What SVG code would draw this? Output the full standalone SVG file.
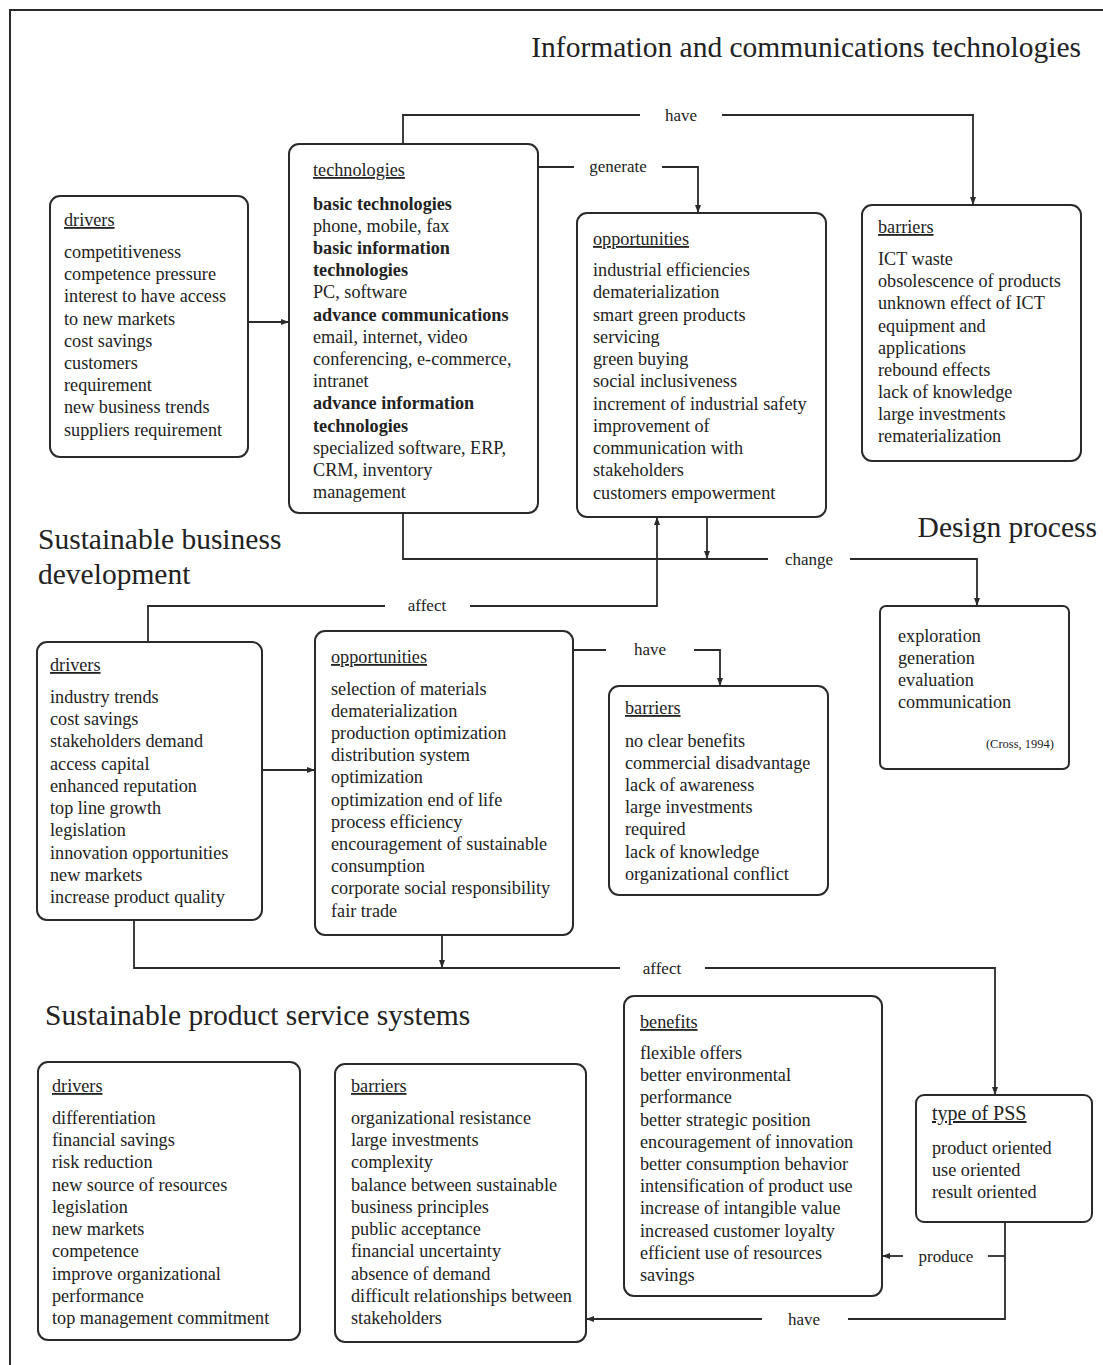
<svg xmlns="http://www.w3.org/2000/svg" width="1103" height="1365" viewBox="0 0 1103 1365">
<style>
text{font-family:"Liberation Serif","Times New Roman",serif;fill:#222}
.t{font-size:18.2px}
.h{font-size:18.2px;text-decoration:underline}
.b{font-weight:bold}
.lbl{font-size:17px;text-anchor:middle}
.title{font-size:29.5px}
.box{fill:#fff;stroke:#2a2a2a;stroke-width:2}
.c{fill:none;stroke:#2a2a2a;stroke-width:1.8}
</style>
<defs>
<marker id="ah" markerWidth="8" markerHeight="8" refX="7" refY="4" orient="auto" markerUnits="userSpaceOnUse">
<path d="M0,1 L8,4 L0,7 Z" fill="#2a2a2a"/>
</marker>
</defs>
<rect width="1103" height="1365" fill="#fff"/>
<path d="M10,1365 V10 H1103" fill="none" stroke="#2a2a2a" stroke-width="2"/>

<text class="title" x="1081" y="57" text-anchor="end">Information and communications technologies</text>
<text class="title" x="1097" y="537" text-anchor="end">Design process</text>
<text class="title" x="38" y="549">Sustainable business</text>
<text class="title" x="38" y="584">development</text>
<text class="title" x="45" y="1025">Sustainable product service systems</text>

<g id="connectors">
<path class="c" d="M403,144 V115 H640"/>
<path class="c" d="M722,115 H973 V204" marker-end="url(#ah)"/>
<text class="lbl" x="681" y="121">have</text>
<path class="c" d="M538,167 H574"/>
<path class="c" d="M662,167 H698 V212" marker-end="url(#ah)"/>
<text class="lbl" x="618" y="172">generate</text>
<path class="c" d="M248,322 H288" marker-end="url(#ah)"/>
<path class="c" d="M403,513 V559 H768"/>
<path class="c" d="M850,559 H977 V605" marker-end="url(#ah)"/>
<text class="lbl" x="809" y="565">change</text>
<path class="c" d="M707,517 V558" marker-end="url(#ah)"/>
<path class="c" d="M148,642 V606 H385"/>
<path class="c" d="M470,606 H657 V518" marker-end="url(#ah)"/>
<text class="lbl" x="427" y="611">affect</text>
<path class="c" d="M262,770 H314" marker-end="url(#ah)"/>
<path class="c" d="M573,650 H606"/>
<path class="c" d="M694,650 H720 V685" marker-end="url(#ah)"/>
<text class="lbl" x="650" y="655">have</text>
<path class="c" d="M134,920 V968 H620"/>
<path class="c" d="M705,968 H995 V1094" marker-end="url(#ah)"/>
<text class="lbl" x="662" y="974">affect</text>
<path class="c" d="M442,935 V967" marker-end="url(#ah)"/>
<path class="c" d="M1005,1222 V1319 H848"/>
<path class="c" d="M762,1319 H587" marker-end="url(#ah)"/>
<text class="lbl" x="804" y="1325">have</text>
<path class="c" d="M1005,1256 H988"/>
<path class="c" d="M903,1256 H883" marker-end="url(#ah)"/>
<text class="lbl" x="946" y="1262">produce</text>
</g>

<g id="ict-drivers">
<rect class="box" x="50" y="196" width="198" height="261" rx="10"/>
<text class="h" x="64" y="226">drivers</text>
<text class="t" x="64" y="258">competitiveness</text>
<text class="t" x="64" y="280">competence pressure</text>
<text class="t" x="64" y="302">interest to have access</text>
<text class="t" x="64" y="325">to new markets</text>
<text class="t" x="64" y="347">cost savings</text>
<text class="t" x="64" y="369">customers</text>
<text class="t" x="64" y="391">requirement</text>
<text class="t" x="64" y="413">new business trends</text>
<text class="t" x="64" y="436">suppliers requirement</text>
</g>

<g id="ict-technologies">
<rect class="box" x="289" y="144" width="249" height="369" rx="10"/>
<text class="h" x="313" y="176">technologies</text>
<text class="t b" x="313" y="210">basic technologies</text>
<text class="t" x="313" y="232">phone, mobile, fax</text>
<text class="t b" x="313" y="254">basic information</text>
<text class="t b" x="313" y="276">technologies</text>
<text class="t" x="313" y="298">PC, software</text>
<text class="t b" x="313" y="321">advance communications</text>
<text class="t" x="313" y="343">email, internet, video</text>
<text class="t" x="313" y="365">conferencing, e-commerce,</text>
<text class="t" x="313" y="387">intranet</text>
<text class="t b" x="313" y="409">advance information</text>
<text class="t b" x="313" y="432">technologies</text>
<text class="t" x="313" y="454">specialized software, ERP,</text>
<text class="t" x="313" y="476">CRM, inventory</text>
<text class="t" x="313" y="498">management</text>
</g>

<g id="ict-opportunities">
<rect class="box" x="577" y="213" width="249" height="304" rx="10"/>
<text class="h" x="593" y="245">opportunities</text>
<text class="t" x="593" y="276">industrial efficiencies</text>
<text class="t" x="593" y="298">dematerialization</text>
<text class="t" x="593" y="321">smart green products</text>
<text class="t" x="593" y="343">servicing</text>
<text class="t" x="593" y="365">green buying</text>
<text class="t" x="593" y="387">social inclusiveness</text>
<text class="t" x="593" y="410">increment of industrial safety</text>
<text class="t" x="593" y="432">improvement of</text>
<text class="t" x="593" y="454">communication with</text>
<text class="t" x="593" y="476">stakeholders</text>
<text class="t" x="593" y="499">customers empowerment</text>
</g>

<g id="ict-barriers">
<rect class="box" x="862" y="205" width="219" height="256" rx="10"/>
<text class="h" x="878" y="233">barriers</text>
<text class="t" x="878" y="265">ICT waste</text>
<text class="t" x="878" y="287">obsolescence of products</text>
<text class="t" x="878" y="309">unknown effect of ICT</text>
<text class="t" x="878" y="332">equipment and</text>
<text class="t" x="878" y="354">applications</text>
<text class="t" x="878" y="376">rebound effects</text>
<text class="t" x="878" y="398">lack of knowledge</text>
<text class="t" x="878" y="420">large investments</text>
<text class="t" x="878" y="442">rematerialization</text>
</g>

<g id="design-process">
<rect class="box" x="880" y="606" width="189" height="163" rx="6"/>
<text class="t" x="898" y="642">exploration</text>
<text class="t" x="898" y="664">generation</text>
<text class="t" x="898" y="686">evaluation</text>
<text class="t" x="898" y="708">communication</text>
<text x="1054" y="748" text-anchor="end" style="font-size:12.5px">(Cross, 1994)</text>
</g>

<g id="sbd-drivers">
<rect class="box" x="37" y="642" width="225" height="278" rx="10"/>
<text class="h" x="50" y="671">drivers</text>
<text class="t" x="50" y="703">industry trends</text>
<text class="t" x="50" y="725">cost savings</text>
<text class="t" x="50" y="747">stakeholders demand</text>
<text class="t" x="50" y="770">access capital</text>
<text class="t" x="50" y="792">enhanced reputation</text>
<text class="t" x="50" y="814">top line growth</text>
<text class="t" x="50" y="836">legislation</text>
<text class="t" x="50" y="859">innovation opportunities</text>
<text class="t" x="50" y="881">new markets</text>
<text class="t" x="50" y="903">increase product quality</text>
</g>

<g id="sbd-opportunities">
<rect class="box" x="315" y="631" width="258" height="304" rx="10"/>
<text class="h" x="331" y="663">opportunities</text>
<text class="t" x="331" y="695">selection of materials</text>
<text class="t" x="331" y="717">dematerialization</text>
<text class="t" x="331" y="739">production optimization</text>
<text class="t" x="331" y="761">distribution system</text>
<text class="t" x="331" y="783">optimization</text>
<text class="t" x="331" y="806">optimization end of life</text>
<text class="t" x="331" y="828">process efficiency</text>
<text class="t" x="331" y="850">encouragement of sustainable</text>
<text class="t" x="331" y="872">consumption</text>
<text class="t" x="331" y="894">corporate social responsibility</text>
<text class="t" x="331" y="917">fair trade</text>
</g>

<g id="sbd-barriers">
<rect class="box" x="609" y="686" width="219" height="209" rx="10"/>
<text class="h" x="625" y="714">barriers</text>
<text class="t" x="625" y="747">no clear benefits</text>
<text class="t" x="625" y="769">commercial disadvantage</text>
<text class="t" x="625" y="791">lack of awareness</text>
<text class="t" x="625" y="813">large investments</text>
<text class="t" x="625" y="835">required</text>
<text class="t" x="625" y="858">lack of knowledge</text>
<text class="t" x="625" y="880">organizational conflict</text>
</g>

<g id="pss-drivers">
<rect class="box" x="38" y="1062" width="262" height="278" rx="10"/>
<text class="h" x="52" y="1092">drivers</text>
<text class="t" x="52" y="1124">differentiation</text>
<text class="t" x="52" y="1146">financial savings</text>
<text class="t" x="52" y="1168">risk reduction</text>
<text class="t" x="52" y="1191">new source of resources</text>
<text class="t" x="52" y="1213">legislation</text>
<text class="t" x="52" y="1235">new markets</text>
<text class="t" x="52" y="1257">competence</text>
<text class="t" x="52" y="1280">improve organizational</text>
<text class="t" x="52" y="1302">performance</text>
<text class="t" x="52" y="1324">top management commitment</text>
</g>

<g id="pss-barriers">
<rect class="box" x="335" y="1064" width="251" height="278" rx="10"/>
<text class="h" x="351" y="1092">barriers</text>
<text class="t" x="351" y="1124">organizational resistance</text>
<text class="t" x="351" y="1146">large investments</text>
<text class="t" x="351" y="1168">complexity</text>
<text class="t" x="351" y="1191">balance between sustainable</text>
<text class="t" x="351" y="1213">business principles</text>
<text class="t" x="351" y="1235">public acceptance</text>
<text class="t" x="351" y="1257">financial uncertainty</text>
<text class="t" x="351" y="1280">absence of demand</text>
<text class="t" x="351" y="1302">difficult relationships between</text>
<text class="t" x="351" y="1324">stakeholders</text>
</g>

<g id="pss-benefits">
<rect class="box" x="624" y="996" width="258" height="300" rx="10"/>
<text class="h" x="640" y="1028">benefits</text>
<text class="t" x="640" y="1059">flexible offers</text>
<text class="t" x="640" y="1081">better environmental</text>
<text class="t" x="640" y="1103">performance</text>
<text class="t" x="640" y="1126">better strategic position</text>
<text class="t" x="640" y="1148">encouragement of innovation</text>
<text class="t" x="640" y="1170">better consumption behavior</text>
<text class="t" x="640" y="1192">intensification of product use</text>
<text class="t" x="640" y="1214">increase of intangible value</text>
<text class="t" x="640" y="1237">increased customer loyalty</text>
<text class="t" x="640" y="1259">efficient use of resources</text>
<text class="t" x="640" y="1281">savings</text>
</g>

<g id="pss-type">
<rect class="box" x="916" y="1095" width="176" height="127" rx="8"/>
<text class="h" x="932" y="1120" style="font-size:20px">type of PSS</text>
<text class="t" x="932" y="1154">product oriented</text>
<text class="t" x="932" y="1176">use oriented</text>
<text class="t" x="932" y="1198">result oriented</text>
</g>
</svg>
